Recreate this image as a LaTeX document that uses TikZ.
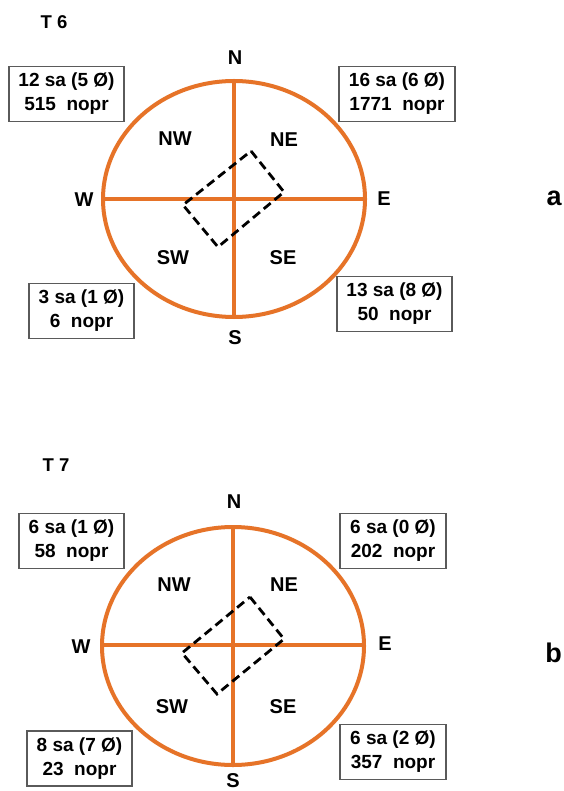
\documentclass[tikz,border=0pt]{standalone}
\usepackage{fontspec}
\setmainfont{Liberation Sans}
\definecolor{rose}{RGB}{230,115,40}
\definecolor{boxgray}{RGB}{90,90,90}
\tikzset{
  lbl/.style={font=\fontsize{20}{24}\selectfont\bfseries, inner sep=0pt},
  ttl/.style={font=\fontsize{18.5}{22}\selectfont\bfseries, inner sep=0pt},
  panel/.style={font=\fontsize{27}{30}\selectfont\bfseries, inner sep=0pt},
  databox/.style={draw=boxgray, line width=1.3pt, align=center, inner sep=0pt,
    font=\fontsize{19}{24}\selectfont\bfseries, minimum height=55pt},
  ring/.style={draw=rose, line width=4pt},
  cross/.style={draw=rose, line width=3.4pt},
  plot/.style={draw=black, line width=2.8pt, dash pattern=on 9pt off 5pt, line join=miter}
}
\begin{document}
\begin{tikzpicture}[x=1pt, y=-1pt]
\useasboundingbox (0,0) rectangle (563,791);
\fill[white] (0,0) rectangle (563,791);

% ---------- panel a ----------
\node[ttl] (t6) at (54,22) {T 6};
\coordinate (ca) at (234,199);
\draw[ring] (ca) ellipse [x radius=131, y radius=118];
\coordinate (aW) at (103,199);
\coordinate (aE) at (365,199);
\coordinate (aN) at (234,81);
\coordinate (aS) at (234,317);
\draw[cross] (aW) -- (aE);
\draw[cross] (aN) -- (aS);
\coordinate (ar1) at (251,151);
\coordinate (ar2) at (284,192);
\coordinate (ar3) at (218,247);
\coordinate (ar4) at (183,205);
\draw[plot] (ar1) -- (ar2) -- (ar3) -- (ar4) -- cycle;
\node[lbl] (aNl) at (235,58) {N};
\node[lbl] (aWl) at (84,200) {W};
\node[lbl] (aEl) at (384,199) {E};
\node[lbl] (aSl) at (235,338) {S};
\node[lbl] (aNW) at (175,139) {NW};
\node[lbl] (aNE) at (284,140) {NE};
\node[lbl] (aSW) at (173,258) {SW};
\node[lbl] (aSE) at (283,258) {SE};
\node[databox, minimum width=115pt] (abNW) at (66.5,94) {12 sa (5 Ø)\\515\ \ nopr};
\node[databox, minimum width=116pt] (abNE) at (397,94) {16 sa (6 Ø)\\1771\ \ nopr};
\node[databox, minimum width=115pt] (abSE) at (394.5,304) {13 sa (8 Ø)\\50\ \ nopr};
\node[databox, minimum width=105pt] (abSW) at (81.5,311) {3 sa (1 Ø)\\6\ \ nopr};
\node[panel] (pa) at (554,198.5) {a};

% ---------- panel b ----------
\node[ttl] (t7) at (56,465) {T 7};
\coordinate (cb) at (233,646);
\draw[ring] (cb) ellipse [x radius=131, y radius=119];
\coordinate (bW) at (102,645);
\coordinate (bE) at (364,645);
\coordinate (bN) at (233,527);
\coordinate (bS) at (233,765);
\draw[cross] (bW) -- (bE);
\draw[cross] (bN) -- (bS);
\coordinate (br1) at (250,597);
\coordinate (br2) at (284,639);
\coordinate (br3) at (217,694);
\coordinate (br4) at (182,653);
\draw[plot] (br1) -- (br2) -- (br3) -- (br4) -- cycle;
\node[lbl] (bNl) at (234,502) {N};
\node[lbl] (bWl) at (81,647) {W};
\node[lbl] (bEl) at (385,644) {E};
\node[lbl] (bSl) at (233,781) {S};
\node[lbl] (bNW) at (174,585) {NW};
\node[lbl] (bNE) at (284,585) {NE};
\node[lbl] (bSW) at (172,707) {SW};
\node[lbl] (bSE) at (283,707) {SE};
\node[databox, minimum width=105pt] (bbNW) at (71.5,541) {6 sa (1 Ø)\\58\ \ nopr};
\node[databox, minimum width=106pt] (bbNE) at (393,541) {6 sa (0 Ø)\\202\ \ nopr};
\node[databox, minimum width=105pt] (bbSW) at (79.5,758.5) {8 sa (7 Ø)\\23\ \ nopr};
\node[databox, minimum width=106pt] (bbSE) at (393,752) {6 sa (2 Ø)\\357\ \ nopr};
\node[panel] (pb) at (553.5,653) {b};
\end{tikzpicture}
\end{document}
